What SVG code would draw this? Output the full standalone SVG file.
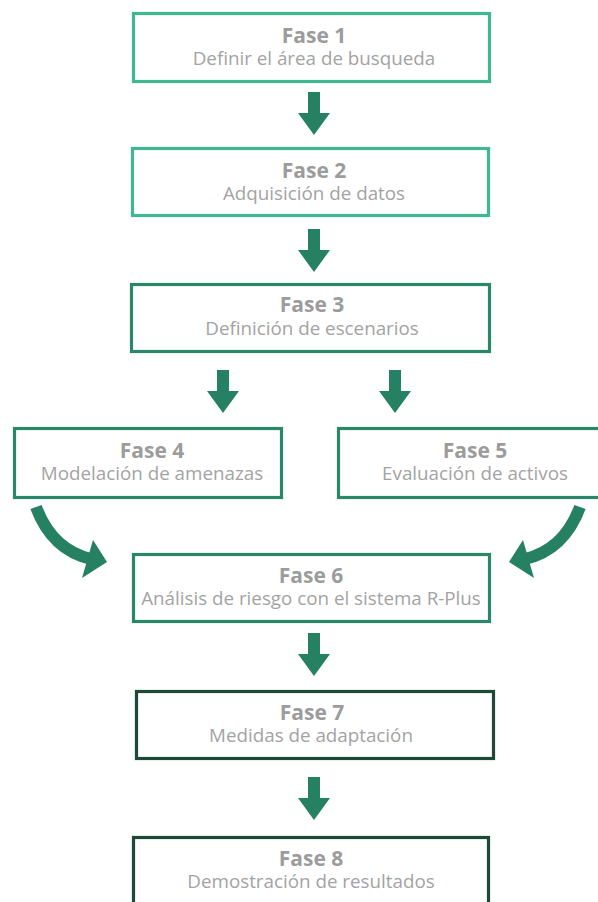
<svg xmlns="http://www.w3.org/2000/svg" xmlns:xlink="http://www.w3.org/1999/xlink" width="598" height="902" viewBox="0 0 598 902">
<style>
.box{fill:#fff;stroke-width:3.2}
.c1{stroke:#3fb88e}
.c2{stroke:#2a8868}
.c3{stroke:#1c4a36}
.t{font-family:"Open Sans","Liberation Sans",sans-serif;text-anchor:middle}
.h{font-size:21px;font-weight:bold;fill:#9c9c9c}
.s{font-size:18.8px;fill:#a3a3a3}
.arr{fill:#268163}
</style>
<defs>
<path id="down" d="M-6,0 H6 V21 H16 L0,43 L-16,21 H-6 Z"/>
</defs>
<g id="connectors" class="arr">
<use xlink:href="#down" x="314" y="92"/>
<use xlink:href="#down" x="314" y="229"/>
<use xlink:href="#down" x="223" y="370"/>
<use xlink:href="#down" x="395" y="370"/>
<use xlink:href="#down" x="314" y="633"/>
<use xlink:href="#down" x="314" y="777"/>
<path d="M36,507 Q52,550 91,559" fill="none" stroke="#268163" stroke-width="12"/>
<path d="M93,540 L107,562 L82,578 Z"/>
<path d="M580,507 Q564,550 525,559" fill="none" stroke="#268163" stroke-width="12"/>
<path d="M523,540 L509,562 L534,578 Z"/>
</g>
<g id="fase1">
<rect class="box c1" x="133.5" y="13.5" width="356" height="68"/>
<text class="t h" x="314" y="43">Fase 1</text>
<text class="t s" x="314" y="65">Definir el área de busqueda</text>
</g>
<g id="fase2">
<rect class="box c1" x="132.5" y="148.5" width="356" height="67"/>
<text class="t h" x="314" y="178">Fase 2</text>
<text class="t s" x="314" y="200">Adquisición de datos</text>
</g>
<g id="fase3">
<rect class="box c2" x="131.5" y="284.5" width="358" height="67"/>
<text class="t h" x="312" y="312">Fase 3</text>
<text class="t s" x="312" y="335">Definición de escenarios</text>
</g>
<g id="fase4">
<rect class="box c2" x="14.5" y="428.5" width="267" height="69"/>
<text class="t h" x="152" y="458">Fase 4</text>
<text class="t s" x="152" y="480">Modelación de amenazas</text>
</g>
<g id="fase5">
<rect class="box c2" x="338.5" y="428.5" width="272" height="69"/>
<text class="t h" x="475" y="458">Fase 5</text>
<text class="t s" x="475" y="480">Evaluación de activos</text>
</g>
<g id="fase6">
<rect class="box c2" x="133.5" y="554.5" width="356" height="67"/>
<text class="t h" x="311" y="583">Fase 6</text>
<text class="t s" x="311" y="605">Análisis de riesgo con el sistema R-Plus</text>
</g>
<g id="fase7">
<rect class="box c3" x="136.5" y="691.5" width="357" height="67"/>
<text class="t h" x="312" y="720">Fase 7</text>
<text class="t s" x="311" y="742">Medidas de adaptación</text>
</g>
<g id="fase8">
<rect class="box c3" x="133.5" y="837.5" width="355" height="80"/>
<text class="t h" x="311" y="866">Fase 8</text>
<text class="t s" x="311" y="888">Demostración de resultados</text>
</g>
</svg>
